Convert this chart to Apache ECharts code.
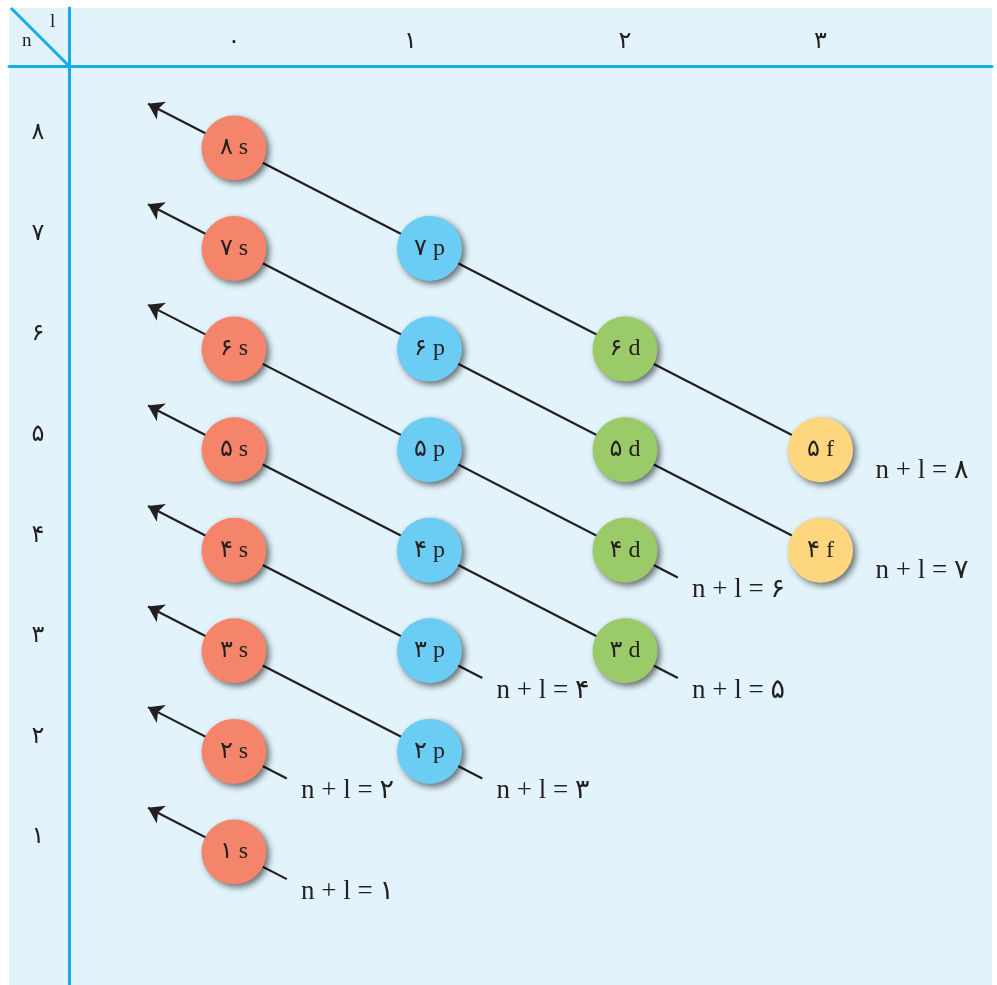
<!DOCTYPE html>
<html>
<head>
<meta charset="utf-8">
<script src="https://cdn.jsdelivr.net/npm/echarts@6/dist/echarts.min.js"></script>
<style>
    html, body { margin: 0; padding: 0; background: #fff; }
    #chart { width: 997px; height: 985px; }
</style>
</head>
<body>
<div id="chart"></div>
<script>
// azimuthal quantum number l (columns)
const lValues = [0, 1, 2, 3];
const lLetters = ['s', 'p', 'd', 'f'];
const lTickLabels = ['۰', '۱', '۲', '۳'];
// principal quantum number n (rows)
const nValues = [1, 2, 3, 4, 5, 6, 7, 8];
const nTickLabels = ['۱', '۲', '۳', '۴', '۵', '۶', '۷', '۸'];
// n of every orbital drawn, per subshell
const sOrbitals = [1, 2, 3, 4, 5, 6, 7, 8];
const pOrbitals = [2, 3, 4, 5, 6, 7];
const dOrbitals = [3, 4, 5, 6];
const fOrbitals = [4, 5];
// n + l diagonals
const sumValues = [1, 2, 3, 4, 5, 6, 7, 8];
const sumTickLabels = ['۱', '۲', '۳', '۴', '۵', '۶', '۷', '۸'];

const faDigits = '۰۱۲۳۴۵۶۷۸۹';
const toFa = v => String(v).replace(/\d/g, d => faDigits[d]);

const ink = '#231f20';
const frame = '#14abe6';
const colors = { s: '#f4846a', p: '#6bccf4', d: '#9bca68', f: '#fdd67e' };
const textFont = "'Liberation Serif', 'DejaVu Sans', serif";

const orbitalsByL = [sOrbitals, pOrbitals, dOrbitals, fOrbitals];

let circleSeries = orbitalsByL.map((list, l) => ({
    name: lLetters[l],
    type: 'scatter',
    z: 5,
    silent: true,
    symbol: 'circle',
    symbolSize: 65,
    itemStyle: {
        color: colors[lLetters[l]],
        opacity: 1,
        shadowBlur: 6,
        shadowColor: 'rgba(0, 0, 0, 0.55)',
        shadowOffsetX: 3,
        shadowOffsetY: 3
    },
    label: {
        show: true,
        position: 'inside',
        color: ink,
        fontSize: 24,
        fontFamily: textFont,
        formatter: p => toFa(p.value[1]) + ' ' + lLetters[l]
    },
    data: list.map(n => [lValues[l], n])
}));

// one line per n + l value, from just past the last orbital up to an arrow
let diagonals = [];
let sumLabelData = [];
sumValues.forEach((k, i) => {
    let ls = [];
    orbitalsByL.forEach((list, l) => {
        if (list.indexOf(k - l) !== -1) ls.push(l);
    });
    let lMax = Math.max.apply(null, ls);
    let over = lMax === 3 ? 0 : 0.27;
    diagonals.push({
        coords: [[lMax + over, k - lMax - over], [-0.44, k + 0.44]]
    });
    sumLabelData.push({
        value: [lMax, k - lMax],
        label: {
            offset: lMax === 3 ? [55, 21] : [67, 40]
        },
        name: 'n + l = ' + sumTickLabels[i]
    });
});

let chart = echarts.init(document.getElementById('chart'));

let option = {
    animation: false,
    backgroundColor: '#ffffff',
    grid: {
        show: true,
        left: 9,
        top: 8,
        right: 5,
        bottom: 0,
        backgroundColor: '#e2f3fb',
        borderWidth: 0
    },
    xAxis: {
        type: 'value',
        position: 'top',
        offset: -58,
        min: -1.151,
        max: 3.877,
        splitLine: { show: false },
        axisTick: { show: false },
        axisLine: { show: true, onZero: false, lineStyle: { color: frame, width: 3 } },
        axisLabel: {
            customValues: lValues,
            margin: 24,
            verticalAlign: 'middle',
            color: ink,
            fontSize: 24,
            fontFamily: textFont,
            formatter: v => v === 1 ? '{shift|' + lTickLabels[v] + '}' : lTickLabels[v],
            rich: {
                shift: {
                    fontSize: 24,
                    fontFamily: textFont,
                    color: ink,
                    padding: [0, 38, 0, 0]
                }
            }
        }
    },
    yAxis: {
        type: 'value',
        position: 'left',
        offset: -60,
        min: -0.323,
        max: 9.392,
        splitLine: { show: false },
        axisTick: { show: false },
        axisLine: { show: true, onZero: false, lineStyle: { color: frame, width: 3 } },
        axisLabel: {
            customValues: nValues,
            margin: 31,
            align: 'center',
            verticalAlign: 'bottom',
            lineHeight: 30,
            color: ink,
            fontSize: 24,
            fontFamily: textFont,
            formatter: v => nTickLabels[v - 1]
        }
    },
    graphic: [
        {
            type: 'line',
            silent: true,
            z: 10,
            shape: { x1: 11, y1: 8, x2: 69, y2: 66 },
            style: { stroke: frame, lineWidth: 3 }
        },
        {
            type: 'text',
            silent: true,
            z: 10,
            left: 22,
            top: 32,
            style: { text: 'n', fontSize: 19, fontFamily: textFont, fill: ink }
        },
        {
            type: 'text',
            silent: true,
            z: 10,
            left: 50,
            top: 13,
            style: { text: 'l', fontSize: 19, fontFamily: textFont, fill: ink }
        }
    ],
    series: [
        {
            name: 'diagonals',
            type: 'lines',
            coordinateSystem: 'cartesian2d',
            silent: true,
            z: 2,
            symbol: ['none', 'arrow'],
            symbolSize: 15,
            lineStyle: { color: ink, width: 2.2, opacity: 1 },
            data: diagonals
        }
    ].concat(circleSeries, [
        {
            name: 'sums',
            type: 'scatter',
            silent: true,
            z: 6,
            symbolSize: 0,
            itemStyle: { opacity: 1 },
            label: {
                show: true,
                position: 'inside',
                align: 'left',
                verticalAlign: 'middle',
                color: ink,
                opacity: 1,
                fontSize: 27,
                fontFamily: textFont,
                formatter: p => p.name
            },
            data: sumLabelData
        }
    ])
};

chart.setOption(option);
</script>
</body>
</html>
